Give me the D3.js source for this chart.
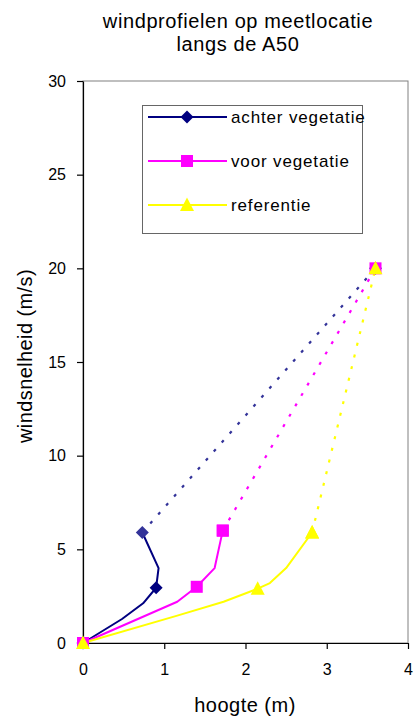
<!DOCTYPE html>
<html>
<head>
<meta charset="utf-8">
<script src="https://cdn.jsdelivr.net/npm/d3@7"></script>
<style>
  html, body { margin: 0; padding: 0; background: #fff; }
  svg { display: block; font-family: "Liberation Sans", Arial, sans-serif; }
</style>
</head>
<body>
<svg id="chart" width="417" height="724"></svg>
<script>
// Measured wind profiles (solid) per location
const achterX = [0, 0.48, 0.74, 0.90, 0.93, 0.73];
const achterY = [0, 1.28, 2.12, 2.95, 4.0, 5.9];
const achterMarks = [0, 3];

const voorX = [0, 1.16, 1.40, 1.62, 1.72];
const voorY = [0, 2.2, 3.0, 4.0, 6.0];
const voorMarks = [0, 2, 4];

const refX = [0, 1.15, 1.73, 2.15, 2.30, 2.50, 2.82];
const refY = [0, 1.45, 2.2, 2.9, 3.2, 4.0, 5.9];
const refMarks = [0, 3, 6];

// Extrapolated upper point (dotted continuation)
const topX = 3.6;
const topY = 20;

const xTicks = [0, 1, 2, 3, 4];
const yTicks = [0, 5, 10, 15, 20, 25, 30];

const titleLines = ["windprofielen op meetlocatie", "langs de A50"];
const xTitle = "hoogte (m)";
const yTitle = "windsnelheid (m/s)";
const seriesNames = ["achter vegetatie", "voor vegetatie", "referentie"];

const svg = d3.select("#chart");

const x = d3.scaleLinear().domain([0, 4]).range([83, 408]);
const y = d3.scaleLinear().domain([0, 30]).range([643, 81]);

// plot area frame
svg.append("rect")
  .attr("x", x(0)).attr("y", y(30))
  .attr("width", x(4) - x(0)).attr("height", y(0) - y(30))
  .attr("fill", "#fff").attr("stroke", "#808080").attr("stroke-width", 1);

// axes
const yAxis = svg.append("g")
  .attr("transform", `translate(${x(0)},0)`)
  .call(d3.axisLeft(y).tickValues(yTicks).tickFormat(d3.format("d"))
    .tickSize(6).tickPadding(11).tickSizeOuter(0));
const xAxis = svg.append("g")
  .attr("transform", `translate(0,${y(0)})`)
  .call(d3.axisBottom(x).tickValues(xTicks).tickFormat(d3.format("d"))
    .tickSize(6).tickPadding(15).tickSizeOuter(0));
[xAxis, yAxis].forEach(g => {
  g.select(".domain").attr("stroke", "#000").attr("stroke-width", 1.2);
  g.selectAll(".tick line").attr("stroke", "#000").attr("stroke-width", 1.2);
  g.selectAll(".tick text").attr("fill", "#000")
    .style("font-family", "'Liberation Sans', Arial, sans-serif").style("font-size", "16px");
});

const series = [
  { xs: achterX, ys: achterY, marks: achterMarks, color: "#000080", dotColor: "#333399", shape: "diamond" },
  { xs: voorX, ys: voorY, marks: voorMarks, color: "#FF00FF", dotColor: "#FF00FF", shape: "square" },
  { xs: refX, ys: refY, marks: refMarks, color: "#FFFF00", dotColor: "#FFFF00", shape: "triangle" }
];

const line = d3.line().x(d => x(d[0])).y(d => y(d[1]));

function marker(g, shape, cx, cy, color) {
  if (shape === "diamond") {
    g.append("path")
      .attr("d", `M${cx},${cy - 6.5}L${cx + 6.5},${cy}L${cx},${cy + 6.5}L${cx - 6.5},${cy}Z`)
      .attr("fill", color);
  } else if (shape === "square") {
    g.append("rect")
      .attr("x", cx - 6).attr("y", cy - 6).attr("width", 12).attr("height", 12)
      .attr("fill", color);
  } else {
    g.append("path")
      .attr("d", `M${cx},${cy - 7.5}L${cx + 7},${cy + 6}L${cx - 7},${cy + 6}Z`)
      .attr("fill", color);
  }
}

const plot = svg.append("g");

// solid measured lines
series.forEach(s => {
  const pts = s.xs.map((v, i) => [v, s.ys[i]]);
  plot.append("path").datum(pts)
    .attr("d", line).attr("fill", "none")
    .attr("stroke", s.color).attr("stroke-width", 2).attr("stroke-linejoin", "round");
});
// dotted extrapolation to upper point
series.forEach(s => {
  const n = s.xs.length - 1;
  plot.append("path").datum([[s.xs[n], s.ys[n]], [topX, topY]])
    .attr("d", line).attr("fill", "none")
    .attr("stroke", s.dotColor).attr("stroke-width", 2.2)
    .attr("stroke-dasharray", "3,9");
});
// markers
series.forEach(s => {
  s.marks.forEach(i => marker(plot, s.shape, x(s.xs[i]), y(s.ys[i]), s.color));
  const n = s.xs.length - 1;
  marker(plot, s.shape, x(s.xs[n]), y(s.ys[n]), s.dotColor);
  marker(plot, s.shape, x(topX), y(topY), s.dotColor);
});

// legend
const lg = svg.append("g");
lg.append("rect").attr("x", 142.5).attr("y", 105.5).attr("width", 220).attr("height", 128)
  .attr("fill", "#fff").attr("stroke", "#666").attr("stroke-width", 1);
const rows = [117, 161, 205];
series.forEach((s, i) => {
  lg.append("line").attr("x1", 148).attr("x2", 227).attr("y1", rows[i]).attr("y2", rows[i])
    .attr("stroke", s.color).attr("stroke-width", 2);
  marker(lg, s.shape, 187, rows[i], s.color);
  lg.append("text").attr("x", 231).attr("y", rows[i] + 6)
    .style("font-size", "17px").style("letter-spacing", "0.85px")
    .attr("fill", "#000").text(seriesNames[i]);
});

// titles
const title = svg.append("text").attr("text-anchor", "middle")
  .style("font-size", "20px").style("letter-spacing", "0.6px").attr("fill", "#000");
titleLines.forEach((t, i) => {
  title.append("tspan").attr("x", 238).attr("y", 28 + i * 23).text(t);
});
svg.append("text").attr("x", 245).attr("y", 712).attr("text-anchor", "middle")
  .style("font-size", "20px").style("letter-spacing", "0.5px").attr("fill", "#000").text(xTitle);
svg.append("text").attr("transform", "translate(32,356) rotate(-90)").attr("text-anchor", "middle")
  .style("font-size", "20px").style("letter-spacing", "0.4px").attr("fill", "#000").text(yTitle);
</script>
</body>
</html>
